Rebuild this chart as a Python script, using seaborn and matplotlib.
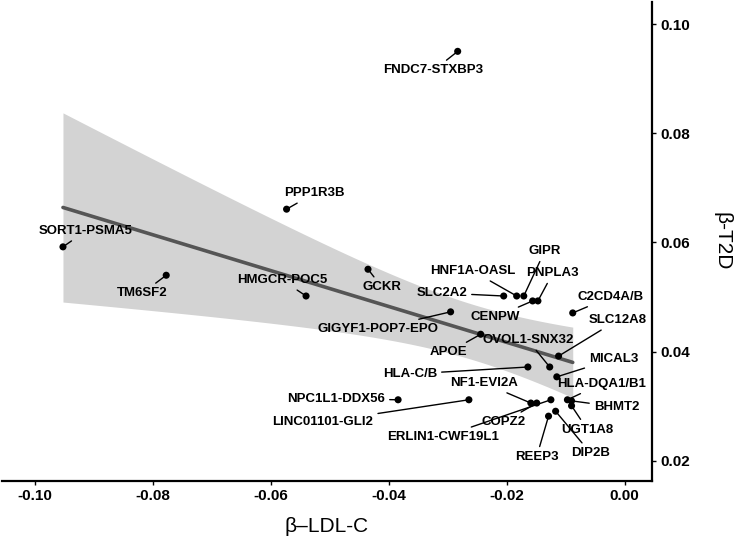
import numpy as np
import pandas as pd
import matplotlib
matplotlib.use("Agg")
import matplotlib.pyplot as plt
import seaborn as sns

genes = ["FNDC7-STXBP3", "PPP1R3B", "SORT1-PSMA5", "TM6SF2", "HMGCR-POC5", "GCKR",
         "SLC2A2", "HNF1A-OASL", "GIPR", "PNPLA3", "CENPW", "C2CD4A/B",
         "GIGYF1-POP7-EPO", "APOE", "OVOL1-SNX32", "SLC12A8", "MICAL3", "HLA-C/B",
         "HLA-DQA1/B1", "BHMT2", "UGT1A8", "NF1-EVI2A", "COPZ2", "ERLIN1-CWF19L1",
         "REEP3", "DIP2B", "NPC1L1-DDX56", "LINC01101-GLI2"]
beta_ldl = [-0.0283, -0.0573, -0.0952, -0.0777, -0.0540, -0.0435,
            -0.0205, -0.0183, -0.0171, -0.0147, -0.0156, -0.0088,
            -0.0295, -0.0244, -0.0127, -0.0112, -0.0115, -0.0164,
            -0.0097, -0.0090, -0.0090, -0.0159, -0.0149, -0.0125,
            -0.0129, -0.0117, -0.0384, -0.0264]
beta_t2d = [0.0950, 0.0661, 0.0592, 0.0540, 0.0502, 0.0551,
            0.0502, 0.0502, 0.0502, 0.0493, 0.0493, 0.0471,
            0.0473, 0.0432, 0.0372, 0.0392, 0.0354, 0.0372,
            0.0312, 0.0310, 0.0301, 0.0306, 0.0306, 0.0312,
            0.0282, 0.0291, 0.0312, 0.0312]
x_ticks = [-0.10, -0.08, -0.06, -0.04, -0.02, 0.00]
y_ticks = [0.02, 0.04, 0.06, 0.08, 0.10]

# label placement (pixel offsets: right, up) -- layout only
label_offsets = {
    "FNDC7-STXBP3": (-24, -19), "PPP1R3B": (28, 16), "SORT1-PSMA5": (23, 16),
    "TM6SF2": (-24, -18), "HMGCR-POC5": (-24, 16), "GCKR": (14, -18),
    "SLC2A2": (-62, 3), "HNF1A-OASL": (-44, 25), "GIPR": (21, 45),
    "PNPLA3": (15, 28), "CENPW": (-37, -16), "C2CD4A/B": (38, 16),
    "GIGYF1-POP7-EPO": (-73, -17), "APOE": (-32, -18), "OVOL1-SNX32": (-22, 27),
    "SLC12A8": (59, 36), "MICAL3": (57, 18), "HLA-C/B": (-118, -7),
    "HLA-DQA1/B1": (34, 16), "BHMT2": (45, -6), "UGT1A8": (16, -24),
    "NF1-EVI2A": (-47, 20), "COPZ2": (-33, -19), "ERLIN1-CWF19L1": (-108, -37),
    "REEP3": (-12, -41), "DIP2B": (35, -42), "NPC1L1-DDX56": (-62, 1),
    "LINC01101-GLI2": (-146, -22),
}

df = pd.DataFrame({"gene": genes, "ldl": beta_ldl, "t2d": beta_t2d})

# linear model fit with analytic 95% confidence band (like geom_smooth(method="lm"))
xa = np.asarray(beta_ldl)
ya = np.asarray(beta_t2d)
n = len(xa)
slope, intercept = np.polyfit(xa, ya, 1)
resid = ya - (intercept + slope * xa)
s_err = np.sqrt(np.sum(resid ** 2) / (n - 2))
sxx = np.sum((xa - xa.mean()) ** 2)
t_crit = 2.0555  # t(0.975, df=26)
grid = np.linspace(xa.min(), xa.max(), 200)
fit = intercept + slope * grid
half = t_crit * s_err * np.sqrt(1.0 / n + (grid - xa.mean()) ** 2 / sxx)
fit_df = pd.DataFrame({"ldl": grid, "t2d": fit})

sns.set_theme(style="white")
plt.rcParams["font.family"] = ["Liberation Sans", "DejaVu Sans"]

fig = plt.figure(figsize=(7.34, 5.48), dpi=100)
ax = fig.add_axes([0.003, 0.122, 0.885, 0.874])

ax.fill_between(grid, fit - half, fit + half, color="#d3d3d3", lw=0, zorder=1)
sns.lineplot(data=fit_df, x="ldl", y="t2d", ax=ax, color="#555555", lw=2.6, zorder=2)
sns.scatterplot(data=df, x="ldl", y="t2d", ax=ax, color="black", s=26,
                edgecolor="none", zorder=5)

for g, xv, yv in zip(genes, beta_ldl, beta_t2d):
    dx, dy = label_offsets[g]
    ax.annotate(g, xy=(xv, yv), xytext=(dx, dy), textcoords="offset pixels",
                ha="center", va="center", fontsize=9.5, fontweight="bold",
                color="black", zorder=6,
                arrowprops=dict(arrowstyle="-", color="black", lw=1.0,
                                shrinkA=1, shrinkB=0))

ax.set_xlim(-0.1055, 0.0046)
ax.set_ylim(0.0163, 0.104)
ax.set_xticks(x_ticks)
ax.set_yticks(y_ticks)
ax.set_xticklabels([f"{t:.2f}" for t in x_ticks], fontsize=11, fontweight="bold")
ax.set_yticklabels([f"{t:.2f}" for t in y_ticks], fontsize=11, fontweight="bold")
ax.yaxis.tick_right()
ax.yaxis.set_label_position("right")
for s in ["left", "top"]:
    ax.spines[s].set_visible(False)
for s in ["bottom", "right"]:
    ax.spines[s].set_visible(True)
    ax.spines[s].set_linewidth(1.6)
    ax.spines[s].set_color("black")
ax.tick_params(axis="x", direction="out", length=3, width=1, pad=3, colors="black",
               bottom=True)
ax.tick_params(axis="y", direction="out", length=3, width=1, pad=3, colors="black",
               right=True, left=False)
ax.set_xlabel("β–LDL-C", fontsize=15, labelpad=10, color="black")
ax.set_ylabel("β-T2D", fontsize=15, rotation=-90, labelpad=30, color="black")

fig.savefig("out.png", dpi=100)
